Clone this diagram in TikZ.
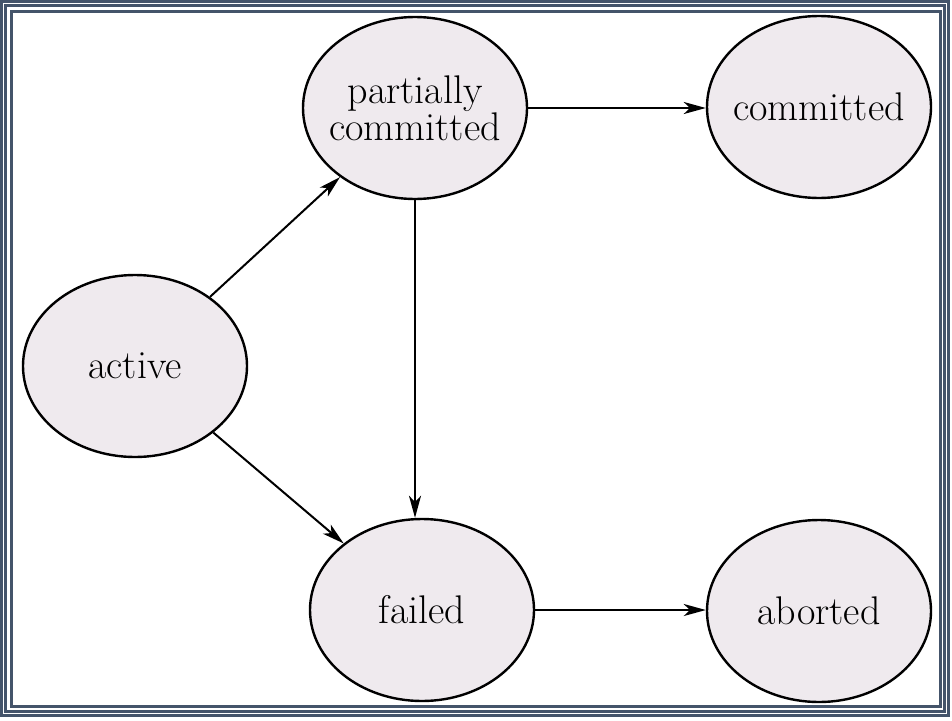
\documentclass[tikz,border=0pt]{standalone}
\usetikzlibrary{shapes.geometric,arrows.meta}
\definecolor{framec}{RGB}{68,84,106}
\definecolor{statefill}{RGB}{239,234,238}
\begin{document}
\begin{tikzpicture}[x=1pt,y=-1pt,
  state/.style={ellipse,draw=black,line width=2.4pt,fill=statefill,
    minimum width=224pt,minimum height=182pt,inner xsep=-15pt,inner ysep=0pt,
    align=center,font=\fontsize{40}{37}\selectfont},
  conn/.style={line width=2pt,-{Stealth[length=22pt,width=12pt,inset=6pt]}},
  framel/.style={draw=framec,line width=3pt}]
\useasboundingbox (0,0) rectangle (952,720);
\draw[framel] (1.5,1.5) rectangle (948.5,715.5);
\draw[framel] (5.8,5.8) rectangle (944.2,711);
\draw[framel] (11,11) rectangle (940,706);
\node[state] (p) at (415,108) {partially\\committed};
\node[state] (c) at (819,107) {committed};
\node[state] (a) at (135,366) {active};
\node[state] (f) at (422,610) {failed};
\node[state] (ab) at (819,611) {aborted};
\draw[conn] (a) -- (p);
\draw[conn] (a) -- (f);
\draw[conn] (p.south) -- (p.south |- f.north);
\draw[conn] (p.east) -- (p.east -| c.west);
\draw[conn] (f.east) -- (f.east -| ab.west);
\end{tikzpicture}
\end{document}
